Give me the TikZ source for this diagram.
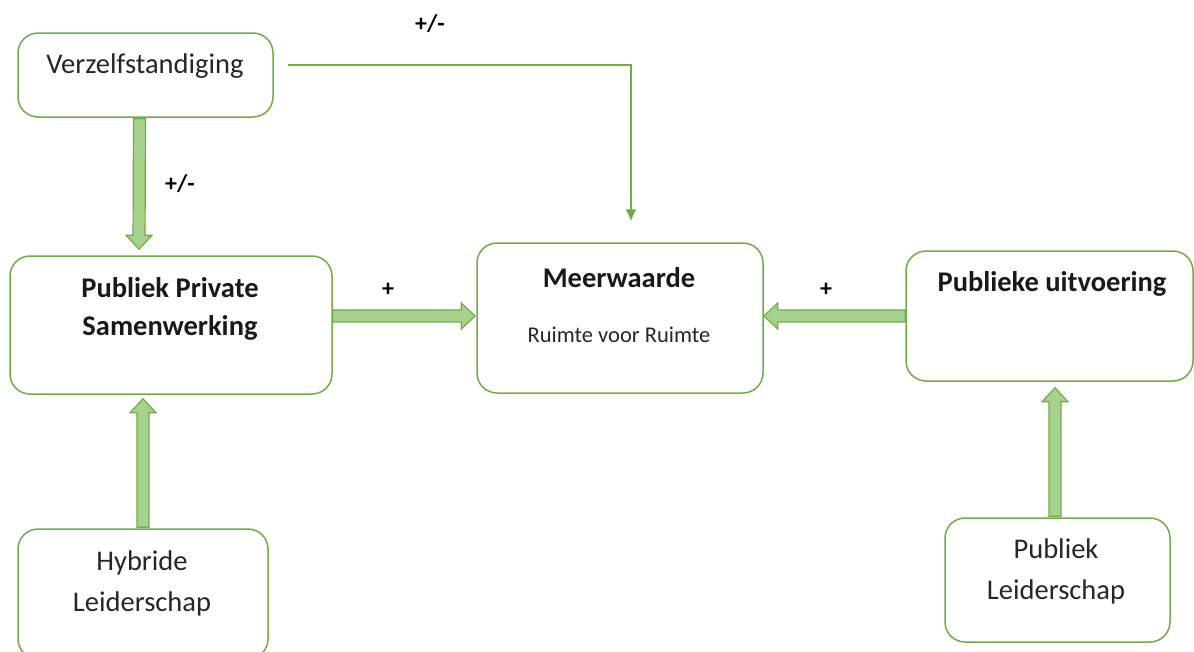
\documentclass[tikz,border=0pt]{standalone}
\usepackage{fontspec}
\setmainfont{Carlito}
\usetikzlibrary{calc,arrows.meta}
\definecolor{gborder}{HTML}{70AD47}
\definecolor{gfill}{HTML}{A9D18E}
\tikzset{
  box/.style={draw=gborder, line width=1.5pt, rounded corners=20pt, fill=white, inner sep=0pt},
  txt/.style={font=\fontsize{28.5}{41}\selectfont, align=center, text=black!85, inner sep=0pt},
  btxt/.style={font=\bfseries\fontsize{28.5}{38}\selectfont, align=center, text=black!90, inner sep=0pt},
  small/.style={font=\fontsize{22.5}{26}\selectfont, text=black!85, inner sep=0pt},
  lbl/.style={font=\bfseries\fontsize{24}{26}\selectfont, inner sep=0pt},
  barrowstyle/.style={draw=gborder, fill=gfill, line width=1.2pt, line join=miter},
  thinarrow/.style={draw=gborder, line width=1.2pt, -{Latex[length=12pt,width=11pt]}}
}
\newcommand{\barrow}[2]{%
  \coordinate (ba-h) at ($(#2)!14pt!(#1)$);
  \draw[barrowstyle] ($(#1)!6pt!90:(#2)$) -- ($(ba-h)!6pt!-90:(#1)$) -- ($(ba-h)!13pt!-90:(#1)$) -- (#2) -- ($(ba-h)!13pt!90:(#1)$) -- ($(ba-h)!6pt!90:(#1)$) -- ($(#1)!6pt!-90:(#2)$) -- cycle;
}
\begin{document}
\begin{tikzpicture}[x=1pt,y=-1pt]
\useasboundingbox (0,0) rectangle (1194,651);
% boxes
\node[box, minimum width=255pt, minimum height=84pt] (v) at (145.5,75) {};
\node[box, minimum width=322pt, minimum height=138pt] (pps) at (171,325) {};
\node[box, minimum width=286pt, minimum height=150pt] (m) at (620,318) {};
\node[box, minimum width=287pt, minimum height=130pt] (pu) at (1049.5,316) {};
\node[box, minimum width=250pt, minimum height=130pt] (hl) at (143,594) {};
\node[box, minimum width=225pt, minimum height=124pt] (pl) at (1057.5,580) {};
% texts
\node[txt] (tv) at (145,66) {Verzelfstandiging};
\node[btxt] (tpps) at (170,309) {Publiek Private\\Samenwerking};
\node[btxt] (tm) at (619,278) {Meerwaarde};
\node[small] (tr) at (619,335) {Ruimte voor Ruimte};
\node[btxt] (tpu) at (1052,284) {Publieke uitvoering};
\node[txt] (thl) at (142,583) {Hybride\\Leiderschap};
\node[txt] (tpl) at (1056,571) {Publiek\\Leiderschap};
% labels
\node[lbl] (l1) at (430,24) {+/-};
\node[lbl] (l2) at (180,184) {+/-};
\node[lbl] (l3) at (388,290) {+};
\node[lbl] (l4) at (826,290) {+};
% block arrows
\coordinate (a1s) at ($(v.south)+(-6,1)$);
\coordinate (a1e) at ($(pps.north)+(-32,-6)$);
\barrow{a1s}{a1e}
\coordinate (a2s) at ($(pps.east)+(0,-9)$);
\coordinate (a2e) at ($(m.west)+(-1,-2)$);
\barrow{a2s}{a2e}
\coordinate (a3s) at ($(pu.west)+(0,0)$);
\coordinate (a3e) at ($(m.east)+(0,-2)$);
\barrow{a3s}{a3e}
\coordinate (a4s) at ($(hl.north)+(0,-1)$);
\coordinate (a4e) at ($(pps.south)+(-28,4)$);
\barrow{a4s}{a4e}
\coordinate (a5s) at ($(pl.north)+(-2.5,-1)$);
\coordinate (a5e) at ($(pu.south)+(5.5,6)$);
\barrow{a5s}{a5e}
% thin connector
\coordinate (c0) at ($(v.east)+(14,-10)$);
\coordinate (c1) at ($(m.north)+(11,-21)$);
\draw[thinarrow] (c0) -| (c1);
\end{tikzpicture}
\end{document}
